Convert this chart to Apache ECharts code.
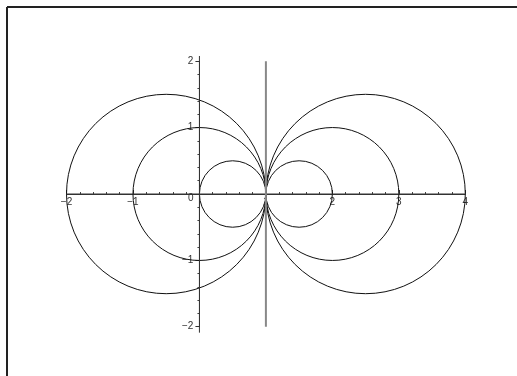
<!DOCTYPE html>
<html>
<head>
<meta charset="utf-8">
<script src="https://cdn.jsdelivr.net/npm/echarts@6/dist/echarts.min.js"></script>
<style>
  html, body { margin: 0; padding: 0; background: #fff; }
  #chart { width: 517px; height: 376px; }
</style>
</head>
<body>
<div id="chart"></div>
<script>
// circles: centre on the x axis and radius
const centres = [-0.5, 0, 0.5, 1.5, 2, 2.5];
const radii = [1.5, 1, 0.5, 0.5, 1, 1.5];
// the grey vertical line at x = 1
const vLineX = [1, 1];
const vLineY = [-2, 2];
// axis ranges, and extents of the axis lines (they run a little past the last tick)
const xRange = [-2, 4];
const yRange = [-2, 2];
const xAxisLine = [[-2.12, 0], [4.12, 0]];
const yAxisLine = [[0, -2.09], [0, 2.08]];

const W = 517, H = 376;
const grid = { left: 66.5, right: 51.7, top: 61.3, bottom: 49.3 };
const gw = W - grid.left - grid.right;
const gh = H - grid.top - grid.bottom;
// move the axes so they cross at the origin
const xOffset = -gh * (0 - yRange[0]) / (yRange[1] - yRange[0]);
const yOffset = -gw * (0 - xRange[0]) / (xRange[1] - xRange[0]);

const circleData = centres.map((c, i) => [c, 0, radii[i]]);
const minus = v => String(v).replace('-', '\u2212');

const chart = echarts.init(document.getElementById('chart'));
chart.setOption({
  animation: false,
  backgroundColor: '#fff',
  grid: grid,
  xAxis: {
    type: 'value', min: xRange[0], max: xRange[1], interval: 1, offset: xOffset,
    axisLine: { onZero: false, lineStyle: { color: '#333', width: 1 } },
    axisTick: { inside: true, length: 4, lineStyle: { color: '#333' } },
    minorTick: { show: true, splitNumber: 5, length: 2, lineStyle: { color: '#444' } },
    splitLine: { show: false },
    axisLabel: {
      margin: 3, fontSize: 10, color: '#333', fontFamily: 'Liberation Sans',
      formatter: v => v === 0 ? '' : minus(v)
    }
  },
  yAxis: {
    type: 'value', min: yRange[0], max: yRange[1], interval: 1, offset: yOffset,
    axisLine: { onZero: false, lineStyle: { color: '#333', width: 1 } },
    axisTick: { inside: false, length: 4, lineStyle: { color: '#333' } },
    minorTick: { show: true, splitNumber: 5, length: 2, lineStyle: { color: '#444' } },
    splitLine: { show: false },
    axisLabel: {
      margin: 6, fontSize: 10, color: '#333', fontFamily: 'Liberation Sans',
      formatter: v => v === 0 ? '' : minus(v)
    }
  },
  graphic: [
    { type: 'line', shape: { x1: 7, y1: 7, x2: 517, y2: 7 }, style: { stroke: '#222', lineWidth: 2 } },
    { type: 'line', shape: { x1: 7, y1: 7, x2: 7, y2: 376 }, style: { stroke: '#222', lineWidth: 2 } },
    { type: 'text', left: 188, top: 193, style: { text: '0', fontSize: 10, fill: '#333', fontFamily: 'Liberation Sans' } }
  ],
  series: [
    {
      type: 'line', data: xAxisLine, symbol: 'none', clip: false, silent: true,
      lineStyle: { color: '#333', width: 1 }
    },
    {
      type: 'line', data: yAxisLine, symbol: 'none', clip: false, silent: true,
      lineStyle: { color: '#333', width: 1 }
    },
    {
      type: 'line', data: vLineX.map((x, i) => [x, vLineY[i]]), symbol: 'none', silent: true,
      lineStyle: { color: '#888', width: 2 }
    },
    {
      type: 'custom',
      data: circleData,
      encode: { x: 0, y: 1 },
      renderItem: (params, api) => {
        const c = api.coord([api.value(0), api.value(1)]);
        const r = api.size([api.value(2), 0])[0];
        return {
          type: 'circle',
          shape: { cx: c[0], cy: c[1], r: r },
          style: { fill: 'none', stroke: '#111', lineWidth: 1 }
        };
      }
    }
  ]
});
</script>
</body>
</html>
